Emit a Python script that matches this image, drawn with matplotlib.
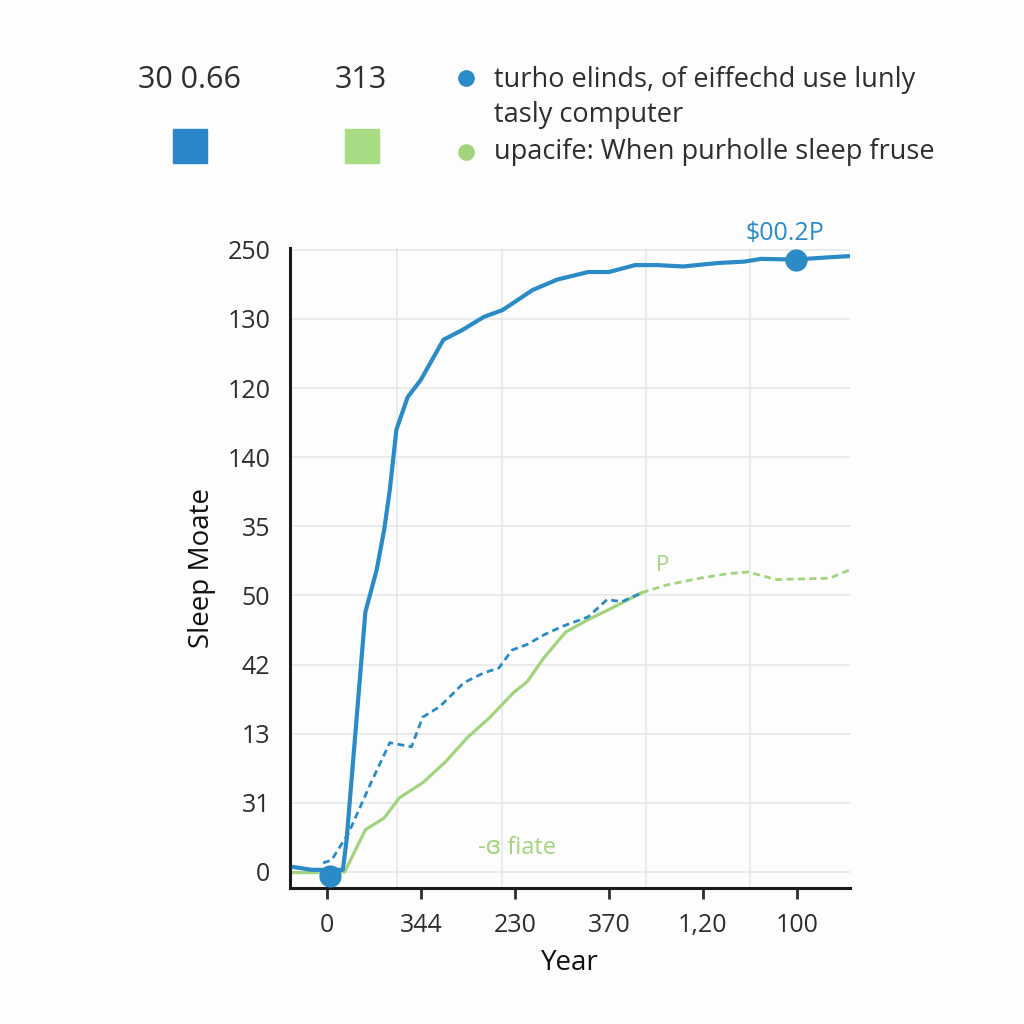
import matplotlib.pyplot as plt

plt.rcParams['font.family'] = ['Open Sans', 'DejaVu Sans']

# tick labels (positions are just index slots)
x_labels = ["0", "344", "230", "370", "1,20", "100"]
y_labels = ["0", "31", "13", "42", "50", "35", "140", "120", "130", "250"]

# series, in tick-slot units
blue_x = [-0.35, -0.16, 0.17, 0.21, 0.41, 0.53, 0.61, 0.67, 0.74, 0.86, 1.00, 1.24, 1.44,
          1.67, 1.87, 2.19, 2.45, 2.78, 3.00, 3.28, 3.51, 3.79, 4.16, 4.44, 4.62, 4.99, 5.31, 5.56]
blue_y = [0.07, 0.03, 0.03, 0.46, 3.76, 4.37, 4.95, 5.53, 6.40, 6.87, 7.12, 7.70, 7.84,
          8.03, 8.13, 8.42, 8.57, 8.68, 8.68, 8.78, 8.78, 8.76, 8.81, 8.83, 8.87, 8.86, 8.89, 8.91]

blue_dash_x = [-0.04, 0.05, 0.23, 0.47, 0.67, 0.90, 1.02, 1.20, 1.46, 1.67, 1.83, 1.97, 2.13,
               2.31, 2.50, 2.78, 2.98, 3.14, 3.35]
blue_dash_y = [0.13, 0.17, 0.56, 1.29, 1.87, 1.81, 2.24, 2.39, 2.74, 2.88, 2.95, 3.21, 3.29,
               3.43, 3.55, 3.69, 3.94, 3.91, 4.04]

green_x = [-0.38, -0.14, 0.19, 0.41, 0.61, 0.77, 1.02, 1.26, 1.50, 1.73, 1.99, 2.13, 2.31,
           2.54, 2.78, 3.05, 3.35]
green_y = [-0.01, -0.01, 0.00, 0.61, 0.78, 1.07, 1.29, 1.59, 1.95, 2.23, 2.60, 2.75, 3.10,
           3.47, 3.65, 3.83, 4.04]

green_dash_x = [3.35, 3.61, 3.97, 4.24, 4.48, 4.78, 5.07, 5.35, 5.56]
green_dash_y = [4.04, 4.15, 4.25, 4.31, 4.34, 4.23, 4.24, 4.25, 4.37]

dots_x = [0.03, 4.99]
dots_y = [-0.06, 8.86]

grid_x = [0.745, 1.86, 3.39, 4.5]

blue = "#2b8bc6"
green = "#a2d47e"
txt = "#2e2e2e"

fig = plt.figure(figsize=(10.24, 10.24), dpi=100)
fig.patch.set_facecolor("#fdfdfd")
ax = fig.add_axes([0.283, 0.133, 0.547, 0.625])
ax.set_facecolor("#fdfdfd")

ax.set_xlim(-0.394, 5.564)
ax.set_ylim(-0.23, 9.03)

for gx in grid_x:
    ax.axvline(gx, color="#e6e8ea", lw=1.2, zorder=0)
for gy in range(len(y_labels)):
    ax.axhline(gy, color="#e6e8ea", lw=1.2, zorder=0)

ax.plot(green_x, green_y, color=green, lw=2.3, zorder=2)
ax.plot(green_dash_x, green_dash_y, color=green, lw=2, ls=(0, (2.5, 1.6)), zorder=2)
ax.plot(blue_dash_x, blue_dash_y, color=blue, lw=2, ls=(0, (2.5, 1.6)), zorder=3)
ax.plot(blue_x, blue_y, color=blue, lw=3, zorder=4)
ax.plot(dots_x, dots_y, ls="none", marker="o", ms=15, color=blue, zorder=5, clip_on=False)

ax.text(4.87, 9.23, "$00.2P", color=blue, fontsize=18, ha="center", va="center")
ax.text(3.57, 4.44, "P", color=green, fontsize=16, ha="center", va="center")
ax.text(2.02, 0.35, "-ɞ fiate", color=green, fontsize=17, ha="center", va="center")

ax.set_xticks(range(len(x_labels)))
ax.set_xticklabels(x_labels)
ax.set_yticks(range(len(y_labels)))
ax.set_yticklabels(y_labels)
ax.tick_params(axis="both", labelsize=18, colors=txt, length=8, width=2, pad=10)
ax.tick_params(axis="y", length=0, pad=14)

for s in ["top", "right"]:
    ax.spines[s].set_visible(False)
for s in ["left", "bottom"]:
    ax.spines[s].set_linewidth(2.2)
    ax.spines[s].set_color("#1a1a1a")

ax.set_xlabel("Year", fontsize=20, color="#111111", labelpad=8)
ax.set_ylabel("Sleep Moate", fontsize=20, color="#111111", labelpad=8)

# header legend
fig.text(190 / 1024, 1 - 80 / 1024, "30 0.66", fontsize=22, color=txt, ha="center", va="center")
fig.text(361 / 1024, 1 - 80 / 1024, "313", fontsize=22, color=txt, ha="center", va="center")
fig.patches.append(plt.Rectangle((173 / 1024, 1 - 163 / 1024), 34 / 1024, 34 / 1024,
                                 transform=fig.transFigure, color="#2a86c8"))
fig.patches.append(plt.Rectangle((345 / 1024, 1 - 163 / 1024), 34 / 1024, 34 / 1024,
                                 transform=fig.transFigure, color="#a8dc84"))
fig.lines.append(plt.Line2D([466 / 1024], [1 - 78 / 1024], marker="o", ms=11, color=blue,
                            transform=fig.transFigure))
fig.lines.append(plt.Line2D([466 / 1024], [1 - 152 / 1024], marker="o", ms=11, color=green,
                            transform=fig.transFigure))
fig.text(494 / 1024, 1 - 80 / 1024, "turho elinds, of eiffechd use lunly", fontsize=19.5,
         color=txt, ha="left", va="center")
fig.text(494 / 1024, 1 - 115 / 1024, "tasly computer", fontsize=19.5, color=txt, ha="left", va="center")
fig.text(494 / 1024, 1 - 152 / 1024, "upacife: When purholle sleep fruse", fontsize=19.5,
         color=txt, ha="left", va="center")

fig.savefig("out.png", dpi=100, facecolor=fig.get_facecolor())
